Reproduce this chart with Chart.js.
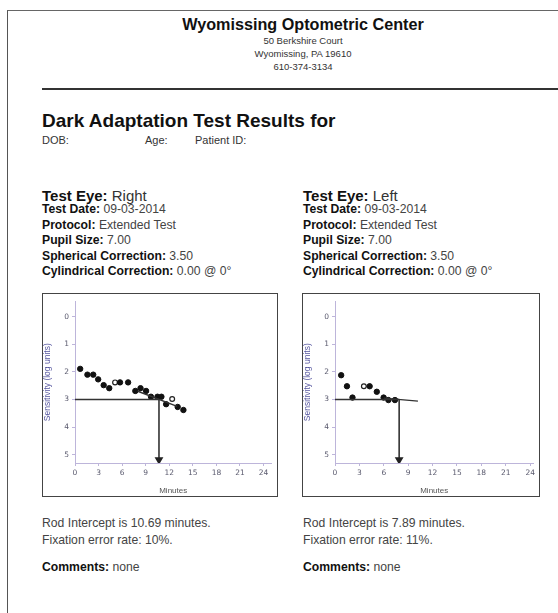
<!DOCTYPE html>
<html>
<head>
<meta charset="utf-8">
<script src="https://cdn.jsdelivr.net/npm/chart.js@4.4.0/dist/chart.umd.js"></script>
<style>
  html, body { margin: 0; padding: 0; background: #fff; }
  body { width: 558px; height: 613px; position: relative; overflow: hidden;
         font-family: "Liberation Sans", Arial, sans-serif; color: #222; }
  .page { position: absolute; left: 7px; top: 10px; width: 560px; height: 620px;
          border-left: 1.5px solid #555; border-top: 1.5px solid #666; }
  .t { position: absolute; white-space: nowrap; }
  .c { left: 0; width: 606px; text-align: center; }
  .rule { position: absolute; left: 42px; top: 88px; width: 520px; height: 0;
          border-top: 2px solid #333; }
  .info { font-size: 12.2px; line-height: 15.5px; color: #444; }
  .info b { color: #111; }
  .box { position: absolute; top: 293px; height: 202px; border: 1.5px solid #444; background: #fff; }
  .box canvas { display: block; }
</style>
</head>
<body>
<div class="page"></div>
<div class="t c" style="top:15px;font-size:16.2px;font-weight:bold;color:#111;">Wyomissing Optometric Center</div>
<div class="t c" style="top:35px;font-size:9.5px;line-height:12.9px;color:#333;">50 Berkshire Court<br>Wyomissing, PA 19610<br>610-374-3134</div>
<div class="rule"></div>
<div class="t" style="left:42px;top:110px;font-size:19px;font-weight:bold;color:#111;">Dark Adaptation Test Results for</div>
<div class="t" style="left:42px;top:134px;font-size:11px;color:#333;">DOB:</div>
<div class="t" style="left:145px;top:134px;font-size:11px;color:#333;">Age:</div>
<div class="t" style="left:195px;top:134px;font-size:11px;color:#333;">Patient ID:</div>

<div class="t" style="left:42px;top:187px;font-size:15px;color:#333;"><b style="color:#111">Test Eye:</b> Right</div>
<div class="t info" style="left:42px;top:202px;">
  <b>Test Date:</b> 09-03-2014<br>
  <b>Protocol:</b> Extended Test<br>
  <b>Pupil Size:</b> 7.00<br>
  <b>Spherical Correction:</b> 3.50<br>
  <b>Cylindrical Correction:</b> 0.00 @ 0°
</div>
<div class="t" style="left:303px;top:187px;font-size:15px;color:#333;"><b style="color:#111">Test Eye:</b> Left</div>
<div class="t info" style="left:303px;top:202px;">
  <b>Test Date:</b> 09-03-2014<br>
  <b>Protocol:</b> Extended Test<br>
  <b>Pupil Size:</b> 7.00<br>
  <b>Spherical Correction:</b> 3.50<br>
  <b>Cylindrical Correction:</b> 0.00 @ 0°
</div>

<div class="box" style="left:42px;width:234px;"><canvas id="rightEye" width="234" height="202"></canvas></div>
<div class="box" style="left:302px;width:236px;"><canvas id="leftEye" width="236" height="202"></canvas></div>

<div class="t info" style="left:42px;top:515px;line-height:16.5px;">Rod Intercept is 10.69 minutes.<br>Fixation error rate: 10%.</div>
<div class="t info" style="left:42px;top:560px;"><b>Comments:</b> none</div>
<div class="t info" style="left:303px;top:515px;line-height:16.5px;">Rod Intercept is 7.89 minutes.<br>Fixation error rate: 11%.</div>
<div class="t info" style="left:303px;top:560px;"><b>Comments:</b> none</div>

<script>
// ticks
const minuteTicks = [0, 3, 6, 9, 12, 15, 18, 21, 24];
const sensitivityTicks = [0, 1, 2, 3, 4, 5];
const threshold = 3;
const axisBottom = 5.3;

// right eye
const rightMinutes = [0.66, 1.58, 2.32, 2.95, 3.65, 4.36, 5.73, 6.76, 7.68, 8.34, 9.05, 9.67, 10.5, 11.0, 11.6, 13.07, 13.8];
const rightSensitivity = [1.89, 2.10, 2.10, 2.27, 2.48, 2.59, 2.38, 2.38, 2.69, 2.59, 2.69, 2.90, 2.90, 2.90, 3.17, 3.27, 3.38];
const rightOpenMinutes = [5.10, 12.37];
const rightOpenSensitivity = [2.38, 2.98];
const rightFitMinutes = [8.0, 13.0];
const rightFitSensitivity = [2.70, 3.25];
const rightIntercept = 10.69;

// left eye
const leftMinutes = [0.76, 1.47, 2.15, 4.26, 5.14, 5.98, 6.57, 7.37];
const leftSensitivity = [2.12, 2.52, 2.93, 2.52, 2.72, 2.93, 3.02, 3.02];
const leftOpenMinutes = [3.55];
const leftOpenSensitivity = [2.52];
const leftFitMinutes = [6.0, 10.2];
const leftFitSensitivity = [2.95, 3.06];
const leftIntercept = 7.89;

const pts = (xs, ys) => xs.map((x, i) => ({ x: x, y: ys[i] }));

function drawChart(id, xs, ys, oxs, oys, fxs, fys, intercept, xMax) {
    const ctx = document.getElementById(id).getContext('2d');
    const axisColor = '#bdb5da';
    const tickColor = '#5a5a6e';
    return new Chart(ctx, {
        type: 'scatter',
        data: {
            datasets: [
                { // threshold line
                    type: 'line', data: pts([0, intercept], [threshold, threshold]),
                    borderColor: '#333', borderWidth: 1.6, pointRadius: 0, showLine: true
                },
                { // fit line
                    type: 'line', data: pts(fxs, fys),
                    borderColor: '#333', borderWidth: 1.4, pointRadius: 0, showLine: true
                },
                { // arrow
                    type: 'line', data: pts([intercept, intercept], [threshold, axisBottom - 0.12]),
                    borderColor: '#333', borderWidth: 1.6, showLine: true,
                    pointRadius: [0, 3.5], pointStyle: 'triangle', rotation: 180,
                    pointBackgroundColor: '#222', pointBorderColor: '#222'
                },
                {
                    data: pts(xs, ys), pointRadius: 2.7, pointBorderWidth: 1,
                    pointBackgroundColor: '#111', pointBorderColor: '#111'
                },
                {
                    data: pts(oxs, oys), pointRadius: 2.4, pointBorderWidth: 1.2,
                    pointBackgroundColor: '#fff', pointBorderColor: '#222'
                }
            ]
        },
        options: {
            responsive: false,
            animation: false,
            events: [],
            layout: { padding: { top: 5, right: 2, left: 0, bottom: 0 } },
            plugins: { legend: { display: false }, tooltip: { enabled: false } },
            scales: {
                x: {
                    type: 'linear', min: 0, max: xMax,
                    afterBuildTicks: s => { s.ticks = minuteTicks.map(v => ({ value: v })); },
                    afterFit: s => { s.height = 33; },
                    border: { display: true, color: axisColor, width: 1 },
                    grid: { drawOnChartArea: false, drawTicks: true, tickLength: 3, color: axisColor },
                    ticks: { color: tickColor, font: { family: 'DejaVu Sans', size: 7.5 }, padding: 3, maxRotation: 0, autoSkip: false },
                    title: { display: true, text: 'Minutes', color: '#555', font: { family: 'Liberation Sans', size: 8 }, padding: { top: 1, bottom: 0 } }
                },
                y: {
                    type: 'linear', reverse: true, min: -0.55, max: axisBottom,
                    afterBuildTicks: s => { s.ticks = sensitivityTicks.map(v => ({ value: v })); },
                    afterFit: s => { s.width = 32; },
                    border: { display: true, color: axisColor, width: 1 },
                    grid: { drawOnChartArea: false, drawTicks: true, tickLength: 3, color: axisColor },
                    ticks: { color: tickColor, font: { family: 'DejaVu Sans', size: 7.5 }, padding: 3 },
                    title: { display: true, text: 'Sensitivity (log units)', color: '#5757a0', font: { family: 'Liberation Sans', size: 8.5 }, padding: { top: 0, bottom: 1 } }
                }
            }
        }
    });
}

drawChart('rightEye', rightMinutes, rightSensitivity, rightOpenMinutes, rightOpenSensitivity,
          rightFitMinutes, rightFitSensitivity, rightIntercept, 25);
drawChart('leftEye', leftMinutes, leftSensitivity, leftOpenMinutes, leftOpenSensitivity,
          leftFitMinutes, leftFitSensitivity, leftIntercept, 24.4);
</script>
</body>
</html>
